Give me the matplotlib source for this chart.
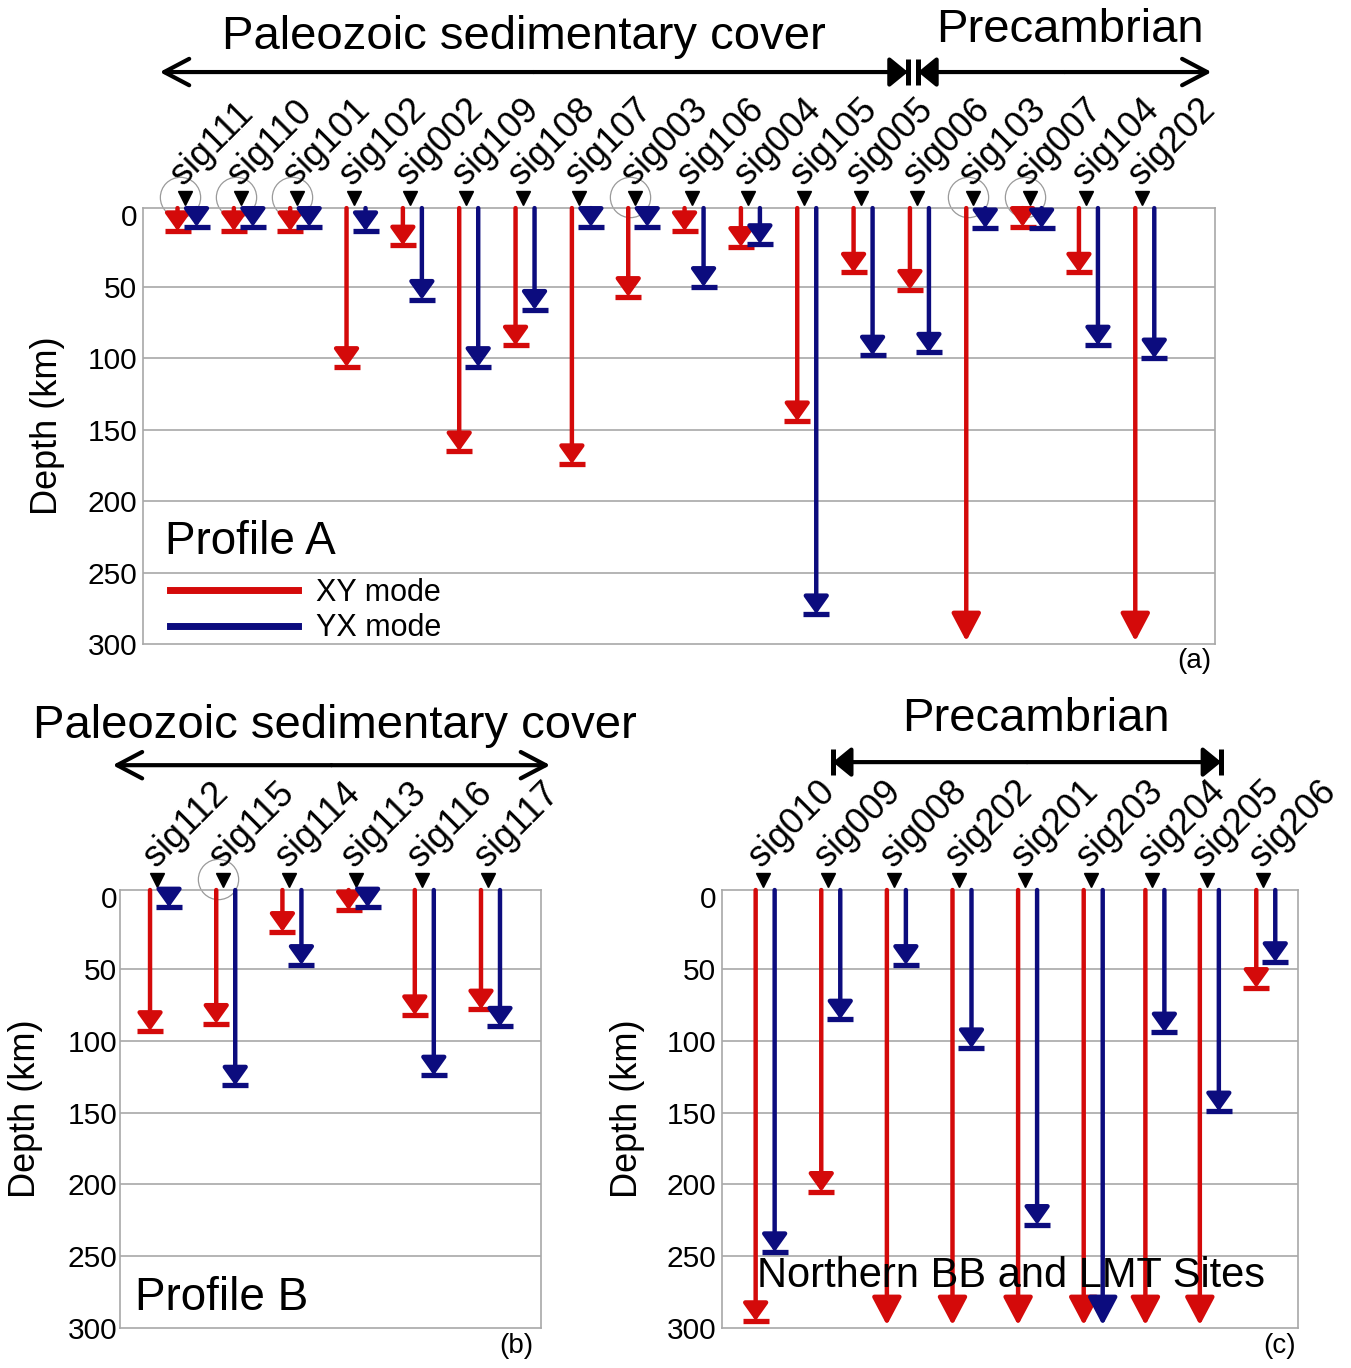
import matplotlib
matplotlib.use("Agg")
import matplotlib.pyplot as plt
from matplotlib.lines import Line2D

plt.rcParams["font.family"] = ["Liberation Sans", "DejaVu Sans"]

RED = "#d40a0a"
BLUE = "#0c0c7e"
GRID = "#a8a8a8"

# profile A
A_SITES = ["sig111", "sig110", "sig101", "sig102", "sig002", "sig109", "sig108",
           "sig107", "sig003", "sig106", "sig004", "sig105", "sig005", "sig006",
           "sig103", "sig007", "sig104", "sig202"]
A_XY = [11, 11, 11, 106, 21, 165, 91, 174, 57, 11, 22, 144, 40, 52, 300, 8, 40, 300]
A_YX = [8, 8, 8, 11, 59, 106, 66, 8, 8, 50, 20, 279, 98, 96, 9, 9, 91, 100]
A_CIRCLED = ["sig111", "sig110", "sig101", "sig003", "sig103", "sig007"]

# profile B
B_SITES = ["sig112", "sig115", "sig114", "sig113", "sig116", "sig117"]
B_XY = [93, 88, 24, 9, 82, 78]
B_YX = [7, 131, 47, 7, 124, 90]
B_CIRCLED = ["sig115"]

# northern BB and LMT sites
C_SITES = ["sig010", "sig009", "sig008", "sig202", "sig201", "sig203", "sig204",
           "sig205", "sig206"]
C_POS = [0, 1, 2, 3, 4, 5, 5.94, 6.77, 7.63]
C_XY = [295, 205, 300, 300, 300, 300, 300, 300, 63]
C_YX = [247, 85, 47, 105, 228, 300, 94, 149, 45]

DEPTH_TICKS = [0, 50, 100, 150, 200, 250, 300]
MAX_DEPTH = 300
SURFACE = -5

fig = plt.figure(figsize=(13.51, 13.68), dpi=100)
ax_a = fig.add_axes([0.1058, 0.5292, 0.7935, 0.3187])
ax_b = fig.add_axes([0.0888, 0.0292, 0.3116, 0.3202])
ax_c = fig.add_axes([0.5344, 0.0292, 0.4264, 0.3202])


def setup(ax, xlim, ylabel_x, pad):
    ax.set_xlim(*xlim)
    ax.set_ylim(MAX_DEPTH, SURFACE)
    ax.set_yticks(DEPTH_TICKS)
    ax.set_xticks([])
    ax.tick_params(axis="y", length=0, pad=pad, labelsize=21.5)
    ax.grid(axis="y", color=GRID, lw=1.2)
    ax.get_ygridlines()[0].set_visible(False)
    ax.get_ygridlines()[-1].set_visible(False)
    for s in ax.spines.values():
        s.set_color(GRID)
        s.set_linewidth(1.2)
    ax.set_ylabel("Depth (km)", fontsize=26)
    ax.yaxis.set_label_coords(ylabel_x, 0.5)


def px_per_unit(ax):
    p0 = ax.transData.transform((0, 0))[0]
    p1 = ax.transData.transform((1, 0))[0]
    return p1 - p0


def draw_arrow(ax, x, depth, color):
    top = ax.get_ylim()[1]
    if depth >= MAX_DEPTH:
        style = "-|>,head_length=1.7,head_width=0.9"
        tip = MAX_DEPTH - 2
    else:
        style = "-|>,head_length=1.05,head_width=0.75"
        tip = depth
    ax.annotate("", xy=(x, tip), xytext=(x, top),
                arrowprops=dict(arrowstyle=style, color=color, lw=3.2,
                                shrinkA=0, shrinkB=0, mutation_scale=10),
                annotation_clip=False)
    if depth < MAX_DEPTH:
        ax.plot([x], [depth], marker="_", ms=19, mew=3.8, color=color)


def draw_profile(ax, sites, pos, xy, yx, circled):
    ppu = px_per_unit(ax)
    trans = ax.get_xaxis_transform()
    for name, x, d1, d2 in zip(sites, pos, xy, yx):
        draw_arrow(ax, x - 7 / ppu, d1, RED)
        draw_arrow(ax, x + 12 / ppu, d2, BLUE)
        ax.plot([x], [1.022], marker="v", ms=10, color="black",
                transform=trans, clip_on=False)
        if name in circled:
            ax.plot([x - 5 / ppu], [1.025], marker="o", ms=29, mfc="none",
                    mec="#9a9a9a", mew=0.9, transform=trans, clip_on=False)
        ax.text(x - 1 / ppu, 1.05, name, rotation=45, rotation_mode="anchor",
                ha="left", va="baseline", fontsize=26, transform=trans)


def span_arrow(ax, x0, x1, y, left, right):
    trans = ax.get_xaxis_transform()
    mid = (x0 + x1) / 2
    for end, kind in ((x0, left), (x1, right)):
        if kind == "open":
            style = "->,head_length=1.8,head_width=0.95"
        else:
            style = "-|>,head_length=1.1,head_width=0.9"
        ax.annotate("", xy=(end, y), xytext=(mid, y), xycoords=trans,
                    textcoords=trans,
                    arrowprops=dict(arrowstyle=style, color="black", lw=3,
                                    shrinkA=0, shrinkB=0, mutation_scale=10),
                    annotation_clip=False)
        if kind == "bar":
            ax.plot([end], [y], marker="|", ms=19, mew=3.6, color="black",
                    transform=trans, clip_on=False)


setup(ax_a, (-0.738, 18.29), -0.0728, 4)
setup(ax_b, (-0.56, 5.80), -0.183, 2)
setup(ax_c, (-0.62, 8.16), -0.134, 4)

draw_profile(ax_a, A_SITES, range(len(A_SITES)), A_XY, A_YX, A_CIRCLED)
draw_profile(ax_b, B_SITES, range(len(B_SITES)), B_XY, B_YX, B_CIRCLED)
draw_profile(ax_c, C_SITES, C_POS, C_XY, C_YX, [])

# geology groups above the profiles
span_arrow(ax_a, -0.44, 12.84, 1.312, "open", "bar")
span_arrow(ax_a, 13.02, 18.23, 1.312, "bar", "open")
ax_a.text(6.03, 1.392, "Paleozoic sedimentary cover", fontsize=34, ha="center",
          va="center", transform=ax_a.get_xaxis_transform())
ax_a.text(15.71, 1.408, "Precambrian", fontsize=34, ha="center", va="center",
          transform=ax_a.get_xaxis_transform())

span_arrow(ax_b, -0.67, 5.94, 1.285, "open", "open")
ax_b.text(2.69, 1.374, "Paleozoic sedimentary cover", fontsize=34, ha="center",
          va="center", transform=ax_b.get_xaxis_transform())

span_arrow(ax_c, 1.07, 6.99, 1.292, "bar", "bar")
ax_c.text(4.17, 1.390, "Precambrian", fontsize=34, ha="center", va="center",
          transform=ax_c.get_xaxis_transform())

# panel titles
ax_a.text(0.0205, 0.2335, "Profile A", fontsize=33, va="center",
          transform=ax_a.transAxes)
ax_b.text(0.036, 0.068, "Profile B", fontsize=33, va="center",
          transform=ax_b.transAxes)
ax_c.text(0.061, 0.118, "Northern BB and LMT Sites", fontsize=30, va="center",
          transform=ax_c.transAxes, zorder=10)

handles = [Line2D([], [], color=RED, lw=5), Line2D([], [], color=BLUE, lw=5)]
ax_a.legend(handles, ["XY mode", "YX mode"], loc="upper left",
            bbox_to_anchor=(0.025, 0.152), frameon=False, fontsize=22,
            handlelength=4.2, handletextpad=0.6, labelspacing=0.18,
            borderpad=0, borderaxespad=0)

for ax, lab, xr in ((ax_a, "(a)", 0.997), (ax_b, "(b)", 0.981), (ax_c, "(c)", 0.9965)):
    ax.text(xr, -0.04, lab, fontsize=20, ha="right", va="center",
            transform=ax.transAxes)

fig.savefig("out.png", dpi=100)
